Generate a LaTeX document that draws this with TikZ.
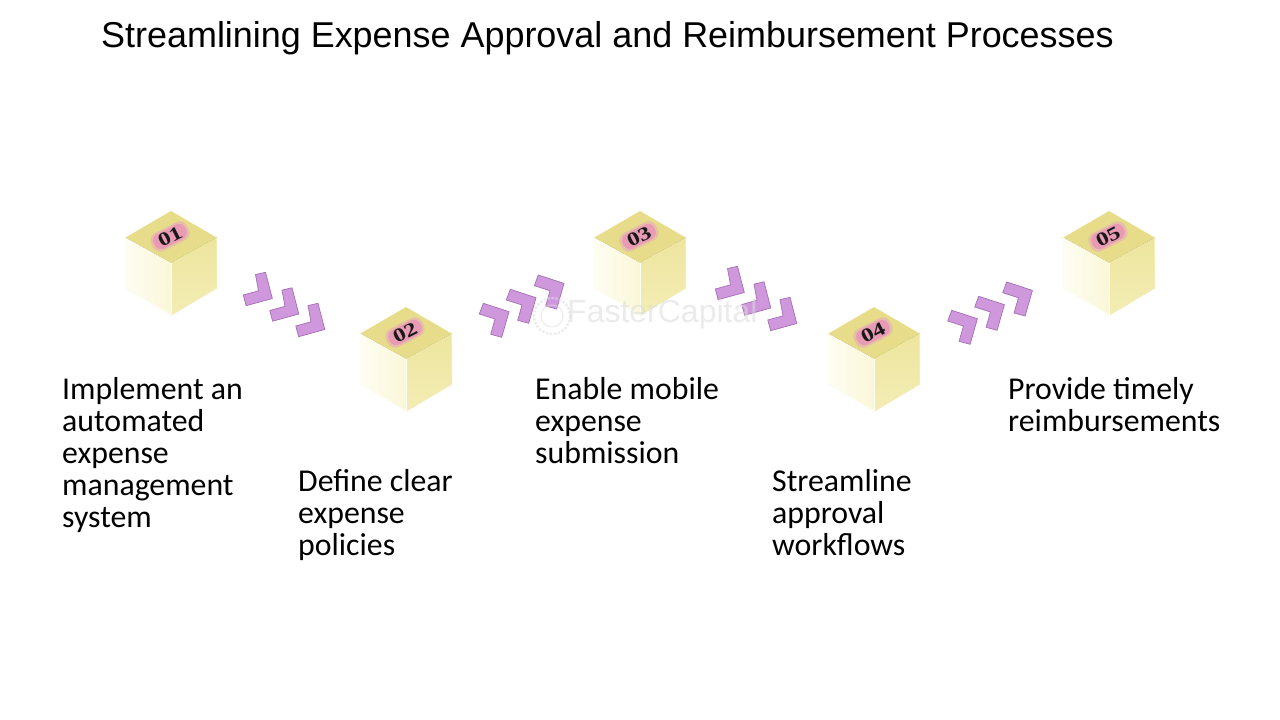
\documentclass[tikz,border=0pt]{standalone}
\usepackage{graphicx}
\usepackage{fontspec}
\setmainfont{Liberation Sans}
\newfontfamily\bodyfont{Carlito}
\newfontfamily\numfont{Liberation Serif}
\usetikzlibrary{shapes.geometric,calc}
\definecolor{topface}{HTML}{E7DC8A}
\definecolor{rightA}{HTML}{EDE59E}
\definecolor{rightB}{HTML}{F3EDB4}
\definecolor{leftA}{HTML}{FEFDF2}
\definecolor{leftB}{HTML}{FAF7D8}
\definecolor{badge}{HTML}{E99AB5}
\definecolor{badgeglow}{HTML}{E6BFA6}
\definecolor{chev}{HTML}{CF97DC}
\definecolor{chevline}{HTML}{A56FB4}
\tikzset{
  titletext/.style={anchor=base west,inner sep=0pt,font=\fontsize{35.93}{40}\selectfont,text=black},
  bodytext/.style={anchor=north west,inner sep=0pt,align=left,font=\bodyfont\fontsize{31.8}{32}\selectfont,text=black},
  numtext/.style={rectangle,rounded corners=7pt,fill=badge,minimum width=35pt,minimum height=16pt,inner sep=0pt,rotate=27,font=\numfont\bfseries\fontsize{19}{19}\selectfont,text=black!90},
  chevron/.style={fill=chev,draw=chevline,line width=0.7pt,line join=miter},
  pics/cube/.style={code={
    \fill[left color=leftA,right color=leftB] (-45.5,-24.5) -- (0,0.5) -- (0,53) -- (-45.5,26) -- cycle;
    \fill[bottom color=rightB,top color=rightA] (45.5,-24.5) -- (45.5,26) -- (0,53) -- (0,0.5) -- cycle;
    \draw[leftA,line width=1.2pt] (-45.5,-24.5) -- (-45.5,26) -- (0,53);
    \draw[rightB,line width=1.2pt] (45.5,-24.5) -- (45.5,26) -- (0,53);
    \fill[topface] (0,-51) -- (45.5,-24.5) -- (0,0.5) -- (-45.5,-24.5) -- cycle;
    \draw[white!60!leftA,line width=0.8pt] (0,0.5) -- (0,53);
    \begin{scope}[shift={(-1,-25.5)},rotate=27]
      \fill[badgeglow,rounded corners=8pt] (-20,-10) rectangle (20,10);
    \end{scope}
    \node[numtext] at (-1,-25.5) {\scalebox{1.3}[1]{#1}};
  }},
  pics/chevdown/.style={code={
    \draw[chevron] (12.2,-20.4) -- (22.2,-22.7) -- (29,3.5) -- (2.8,10.7) -- (0,0) -- (15.2,-4.2) -- cycle;
  }},
  pics/chevup/.style={code={
    \draw[chevron] (4,-10.7) -- (29.7,-2.3) -- (22.4,23.3) -- (11.4,20.3) -- (15.7,5) -- (0,0) -- cycle;
  }}
}
\begin{document}
\begin{tikzpicture}[x=1pt,y=-1pt]
\useasboundingbox (0,0) rectangle (1280,720);
\fill[white] (0,0) rectangle (1280,720);
\node[titletext] (title) at (101,47) {Streamlining Expense Approval and Reimbursement Processes};
% cubes
\pic at (171,262) {cube=01};
\pic at (406,358) {cube=02};
\pic at (640,262) {cube=03};
\pic at (874,358) {cube=04};
\pic at (1109,262) {cube=05};
% chevrons
\foreach \dx/\dy in {0/0,26.5/15.5,52.5/31} {
  \pic at ($(243.3,295)+(\dx,\dy)$) {chevdown};
  \pic at ($(715.3,289)+(\dx,\dy)$) {chevdown};
}
\foreach \dx/\dy in {0/0,27/-14,55/-28.3} {
  \pic at ($(479.3,314)+(\dx,\dy)$) {chevup};
  \pic at ($(947.7,321)+(\dx,\dy)$) {chevup};
}
% labels
\node[bodytext] (t1) at (62,377) {Implement an\\automated\\expense\\management\\system};
\node[bodytext] (t2) at (298,469) {Define clear\\expense\\policies};
\node[bodytext] (t3) at (535,377) {Enable mobile\\expense\\submission};
\node[bodytext] (t4) at (772,469) {Streamline\\approval\\workflows};
\begin{scope}
\clip (1000,360) rectangle (1218,450);
\node[bodytext] (t5) at (1008,377) {Provide timely\\reimbursements};
\end{scope}
% watermark
\begin{scope}[opacity=0.55]
\draw[black!12,line width=2.5pt,dash pattern=on 2.5pt off 1.5pt] (552,316) circle[radius=18];
\draw[black!12,line width=1.2pt] (552,316) circle[radius=11];
\node[anchor=west,inner sep=0pt,text=black!14,font=\fontsize{32}{32}\selectfont] (mark) at (567,314) {FasterCapital};
\end{scope}
\end{tikzpicture}
\end{document}
